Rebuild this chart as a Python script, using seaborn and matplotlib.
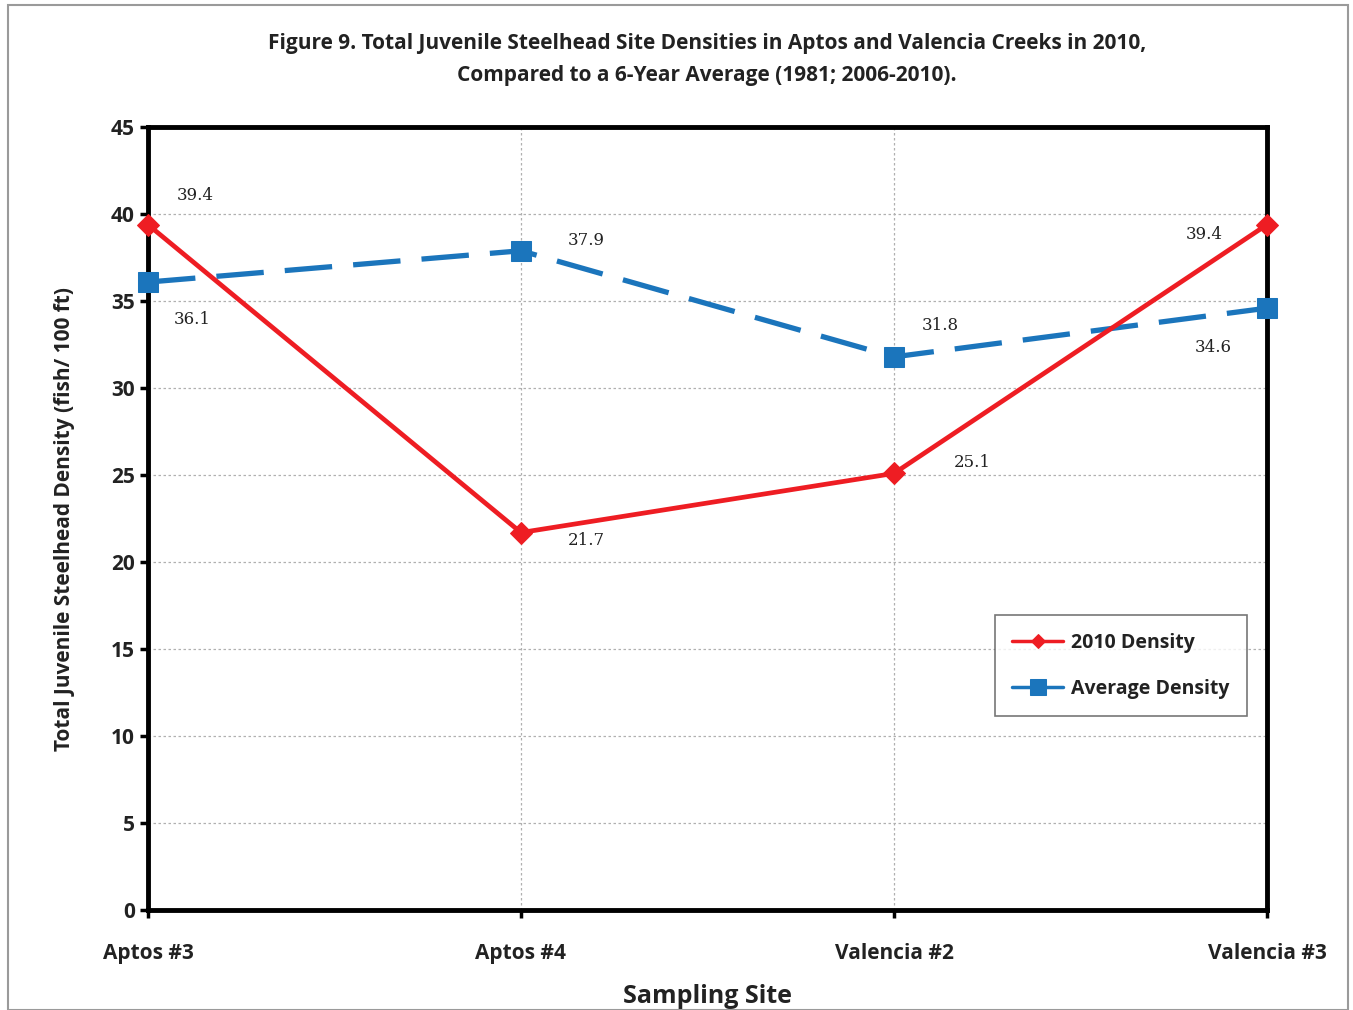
import matplotlib.pyplot as plt
import pandas as pd
import seaborn as sns
from matplotlib.patches import Rectangle

# Dados
sites = ['Aptos #3', 'Aptos #4', 'Valencia #2', 'Valencia #3']
density_2010 = [39.4, 21.7, 25.1, 39.4]
density_avg = [36.1, 37.9, 31.8, 34.6]

sns.set_theme(style="white")
plt.rcParams['font.family'] = ['Open Sans', 'DejaVu Sans']

df = pd.DataFrame({'pos': range(len(sites)), 'site': sites,
                   'd2010': density_2010, 'davg': density_avg})

fig = plt.figure(figsize=(13.53, 10.10), dpi=100)
ax = fig.add_axes([0.1094, 0.099, 0.827, 0.775])

# moldura externa cinza
fig.patches.append(Rectangle((0.006, 0.0), 0.99, 0.995, transform=fig.transFigure,
                             fill=False, edgecolor='#9a9a9a', linewidth=1.5))

red = '#EE1D23'
blue = '#1B75BC'

sns.lineplot(data=df, x='pos', y='davg', ax=ax, color=blue, linewidth=3.8,
             marker='s', markersize=15, markeredgecolor=blue, dashes=False,
             label='Average Density', clip_on=False, zorder=3)
ax.lines[-1].set_dashes([9, 4])
sns.lineplot(data=df, x='pos', y='d2010', ax=ax, color=red, linewidth=3.4,
             marker='D', markersize=11, markeredgecolor=red,
             label='2010 Density', clip_on=False, zorder=4)

ax.set_xlim(0, 3)
ax.set_ylim(0, 45)
ax.set_yticks(range(0, 46, 5))
ax.set_xticks(df['pos'])
ax.set_xticklabels(sites)

ax.grid(True, color='#b0b0b0', linestyle=(0, (2, 2)), linewidth=0.9)
for s in ax.spines.values():
    s.set_color('black')
    s.set_linewidth(3.5)

ax.tick_params(axis='both', which='both', direction='out', length=6, width=2.5,
               color='black', labelsize=15, bottom=True, left=True)
ax.tick_params(axis='x', pad=18)
for lbl in ax.get_xticklabels() + ax.get_yticklabels():
    lbl.set_fontweight('bold')
    lbl.set_color('#222222')

ax.set_xlabel('Sampling Site', fontsize=18, fontweight='bold', color='#222222', labelpad=14)
ax.set_ylabel('Total Juvenile Steelhead Density (fish/ 100 ft)', fontsize=15,
              fontweight='bold', color='#222222', labelpad=26)

fig.text(0.5225, 0.957, 'Figure 9. Total Juvenile Steelhead Site Densities in Aptos and Valencia Creeks in 2010,',
         ha='center', va='center', fontsize=15, fontweight='bold', color='#222222')
fig.text(0.5225, 0.925, 'Compared to a 6-Year Average (1981; 2006-2010).',
         ha='center', va='center', fontsize=15, fontweight='bold', color='#222222')

# rótulos de dados (deslocamento em pixels)
off_2010 = [(47, 29), (65, -8), (78, 11), (-63, -10)]
off_avg = [(44, -37), (65, 10), (46, 31), (-54, -39)]
for i in range(len(sites)):
    for vals, offs in ((density_2010, off_2010), (density_avg, off_avg)):
        dx, dy = offs[i]
        ax.annotate(f'{vals[i]:.1f}', (i, vals[i]), xytext=(dx * 0.72, dy * 0.72),
                    textcoords='offset points', ha='center', va='center',
                    fontsize=12, family='DejaVu Serif', color='#222222')

handles, labels = ax.get_legend_handles_labels()
leg = ax.legend(handles[::-1], labels[::-1], loc='center right', bbox_to_anchor=(0.982, 0.312),
                fontsize=14, frameon=True, fancybox=False, edgecolor='#555555',
                handlelength=2.6, handletextpad=0.4, borderpad=0.9, labelspacing=1.35,
                borderaxespad=0.0)
leg.get_frame().set_linewidth(1.2)
for h in leg.get_lines():
    h.set_linestyle('-')
    h.set_linewidth(2.5)
leg.get_lines()[0].set_markersize(7)
leg.get_lines()[1].set_markersize(11)
for t in leg.get_texts():
    t.set_fontweight('bold')
    t.set_color('#222222')

fig.savefig('out.png', dpi=100)
